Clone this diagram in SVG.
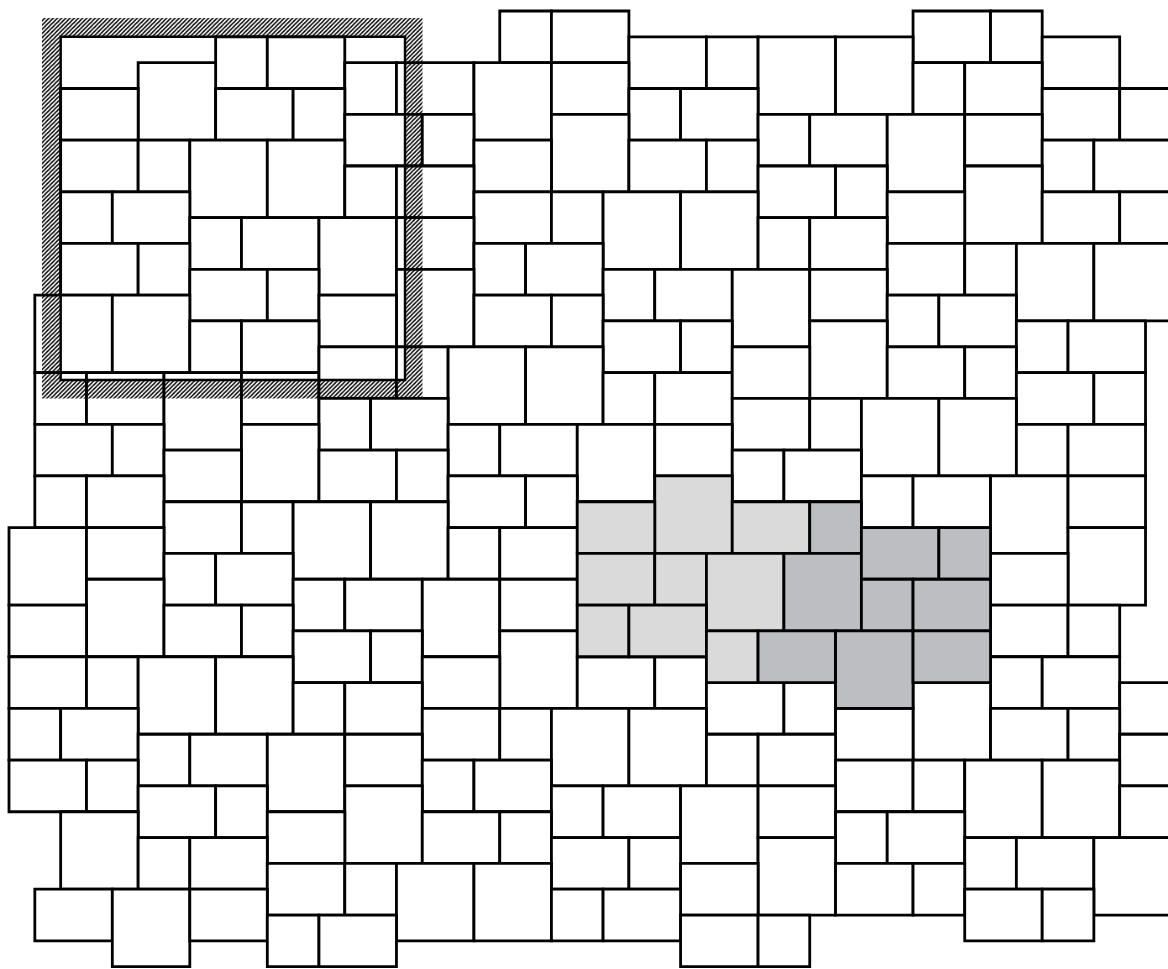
<svg xmlns="http://www.w3.org/2000/svg" width="1168" height="969" viewBox="0 0 1168 969">
<defs>
<pattern id="hatch" patternUnits="userSpaceOnUse" width="4.2" height="4.2">
<path d="M-1,1 L1,-1 M0,4.2 L4.2,0 M3.2,5.2 L5.2,3.2" stroke="#000" stroke-width="1.35"/>
</pattern>
<style>
rect{vector-effect:non-scaling-stroke;stroke:#000;stroke-width:2.8;stroke-linejoin:miter}
.t{fill:#fff}.l{fill:#dadada}.d{fill:#bdbec1}
</style>
</defs>
<rect x="0" y="0" width="1168" height="969" fill="#fff" style="stroke:none"/>
<g id="tiles" transform="translate(9,11) scale(25.83)">
<g class="t">
<rect x="19" y="0" width="2" height="2"/><rect x="21" y="0" width="3" height="2"/><rect x="35" y="0" width="3" height="2"/><rect x="38" y="0" width="2" height="2"/>
<rect x="24" y="1" width="3" height="2"/><rect x="27" y="1" width="2" height="2"/><rect x="29" y="1" width="3" height="3"/><rect x="32" y="1" width="3" height="3"/><rect x="40" y="1" width="3" height="2"/><rect x="8" y="1" width="2" height="2"/><rect x="10" y="1" width="3" height="2"/>
<rect x="5" y="2" width="3" height="3"/><rect x="13" y="2" width="2" height="2"/><rect x="15" y="2" width="3" height="2"/><rect x="18" y="2" width="3" height="3"/><rect x="21" y="2" width="3" height="2"/><rect x="35" y="2" width="2" height="2"/><rect x="37" y="2" width="3" height="2"/>
<rect x="2" y="3" width="3" height="2"/><rect x="8" y="3" width="3" height="2"/><rect x="11" y="3" width="2" height="2"/><rect x="24" y="3" width="2" height="2"/><rect x="26" y="3" width="3" height="2"/><rect x="40" y="3" width="3" height="2"/><rect x="43" y="3" width="3" height="2"/>
<rect x="13" y="4" width="3" height="2"/><rect x="16" y="4" width="2" height="2"/><rect x="21" y="4" width="3" height="3"/><rect x="29" y="4" width="2" height="2"/><rect x="31" y="4" width="3" height="2"/><rect x="34" y="4" width="3" height="3"/><rect x="37" y="4" width="3" height="2"/>
<rect x="2" y="5" width="3" height="2"/><rect x="5" y="5" width="2" height="2"/><rect x="7" y="5" width="3" height="3"/><rect x="10" y="5" width="3" height="3"/><rect x="18" y="5" width="3" height="2"/><rect x="24" y="5" width="3" height="2"/><rect x="27" y="5" width="2" height="2"/><rect x="40" y="5" width="2" height="2"/><rect x="42" y="5" width="3" height="2"/>
<rect x="13" y="6" width="2" height="2"/><rect x="15" y="6" width="3" height="2"/><rect x="29" y="6" width="3" height="2"/><rect x="32" y="6" width="2" height="2"/><rect x="37" y="6" width="3" height="3"/>
<rect x="2" y="7" width="2" height="2"/><rect x="4" y="7" width="3" height="2"/><rect x="18" y="7" width="3" height="2"/><rect x="21" y="7" width="2" height="2"/><rect x="23" y="7" width="3" height="3"/><rect x="26" y="7" width="3" height="3"/><rect x="34" y="7" width="3" height="2"/><rect x="40" y="7" width="3" height="2"/><rect x="43" y="7" width="2" height="2"/>
<rect x="7" y="8" width="2" height="2"/><rect x="9" y="8" width="3" height="2"/><rect x="12" y="8" width="3" height="3"/><rect x="15" y="8" width="3" height="2"/><rect x="29" y="8" width="2" height="2"/><rect x="31" y="8" width="3" height="2"/>
<rect x="2" y="9" width="3" height="2"/><rect x="5" y="9" width="2" height="2"/><rect x="18" y="9" width="2" height="2"/><rect x="20" y="9" width="3" height="2"/><rect x="34" y="9" width="3" height="2"/><rect x="37" y="9" width="2" height="2"/><rect x="39" y="9" width="3" height="3"/><rect x="42" y="9" width="3" height="3"/>
<rect x="7" y="10" width="3" height="2"/><rect x="10" y="10" width="2" height="2"/><rect x="15" y="10" width="3" height="3"/><rect x="23" y="10" width="2" height="2"/><rect x="25" y="10" width="3" height="2"/><rect x="28" y="10" width="3" height="3"/><rect x="31" y="10" width="3" height="2"/>
<rect x="1" y="11" width="3" height="3"/><rect x="4" y="11" width="3" height="3"/><rect x="12" y="11" width="3" height="2"/><rect x="18" y="11" width="3" height="2"/><rect x="21" y="11" width="2" height="2"/><rect x="34" y="11" width="2" height="2"/><rect x="36" y="11" width="3" height="2"/>
<rect x="7" y="12" width="2" height="2"/><rect x="9" y="12" width="3" height="2"/><rect x="23" y="12" width="3" height="2"/><rect x="26" y="12" width="2" height="2"/><rect x="31" y="12" width="3" height="3"/><rect x="39" y="12" width="2" height="2"/><rect x="41" y="12" width="3" height="2"/>
<rect x="1" y="14" width="2" height="2"/><rect x="3" y="14" width="3" height="2"/><rect x="6" y="14" width="3" height="3"/><rect x="9" y="14" width="3" height="2"/><rect x="12" y="13" width="3" height="2"/><rect x="15" y="13" width="2" height="2"/><rect x="17" y="13" width="3" height="3"/><rect x="20" y="13" width="3" height="3"/><rect x="23" y="14" width="2" height="2"/><rect x="25" y="14" width="3" height="2"/><rect x="28" y="13" width="3" height="2"/><rect x="34" y="13" width="3" height="2"/><rect x="37" y="13" width="2" height="2"/><rect x="39" y="14" width="3" height="2"/><rect x="42" y="14" width="2" height="2"/>
<rect x="12" y="15" width="2" height="2"/><rect x="14" y="15" width="3" height="2"/><rect x="28" y="15" width="3" height="2"/><rect x="31" y="15" width="2" height="2"/><rect x="33" y="15" width="3" height="3"/><rect x="36" y="15" width="3" height="3"/>
<rect x="1" y="16" width="3" height="2"/><rect x="4" y="16" width="2" height="2"/><rect x="9" y="16" width="3" height="3"/><rect x="17" y="16" width="2" height="2"/><rect x="19" y="16" width="3" height="2"/><rect x="22" y="16" width="3" height="3"/><rect x="25" y="16" width="3" height="2"/><rect x="39" y="16" width="2" height="2"/><rect x="41" y="16" width="3" height="2"/>
<rect x="6" y="17" width="3" height="2"/><rect x="12" y="17" width="3" height="2"/><rect x="15" y="17" width="2" height="2"/><rect x="28" y="17" width="2" height="2"/><rect x="30" y="17" width="3" height="2"/>
<rect x="1" y="18" width="2" height="2"/><rect x="3" y="18" width="3" height="2"/><rect x="17" y="18" width="3" height="2"/><rect x="20" y="18" width="2" height="2"/><rect x="33" y="18" width="2" height="2"/><rect x="35" y="18" width="3" height="2"/><rect x="38" y="18" width="3" height="3"/><rect x="41" y="18" width="3" height="2"/>
<rect x="6" y="19" width="3" height="2"/><rect x="9" y="19" width="2" height="2"/><rect x="11" y="19" width="3" height="3"/><rect x="14" y="19" width="3" height="3"/>
<rect x="0" y="20" width="3" height="3"/><rect x="3" y="20" width="3" height="2"/><rect x="17" y="20" width="2" height="2"/><rect x="19" y="20" width="3" height="2"/><rect x="41" y="20" width="3" height="3"/>
<rect x="6" y="21" width="2" height="2"/><rect x="8" y="21" width="3" height="2"/><rect x="38" y="21" width="3" height="2"/>
<rect x="3" y="22" width="3" height="3"/><rect x="11" y="22" width="2" height="2"/><rect x="13" y="22" width="3" height="2"/><rect x="16" y="22" width="3" height="3"/><rect x="19" y="22" width="3" height="2"/>
<rect x="0" y="23" width="3" height="2"/><rect x="6" y="23" width="3" height="2"/><rect x="9" y="23" width="2" height="2"/><rect x="38" y="23" width="3" height="2"/><rect x="41" y="23" width="2" height="2"/>
<rect x="11" y="24" width="3" height="2"/><rect x="14" y="24" width="2" height="2"/><rect x="19" y="24" width="3" height="3"/>
<rect x="0" y="25" width="3" height="2"/><rect x="3" y="25" width="2" height="2"/><rect x="5" y="25" width="3" height="3"/><rect x="8" y="25" width="3" height="3"/><rect x="16" y="25" width="3" height="2"/><rect x="22" y="25" width="3" height="2"/><rect x="25" y="25" width="2" height="2"/><rect x="38" y="25" width="2" height="2"/><rect x="40" y="25" width="3" height="2"/>
<rect x="11" y="26" width="2" height="2"/><rect x="13" y="26" width="3" height="2"/><rect x="27" y="26" width="3" height="2"/><rect x="30" y="26" width="2" height="2"/><rect x="35" y="26" width="3" height="3"/><rect x="43" y="26" width="3" height="2"/>
<rect x="0" y="27" width="2" height="2"/><rect x="2" y="27" width="3" height="2"/><rect x="16" y="27" width="3" height="2"/><rect x="19" y="27" width="2" height="2"/><rect x="21" y="27" width="3" height="3"/><rect x="24" y="27" width="3" height="3"/><rect x="32" y="27" width="3" height="2"/><rect x="38" y="27" width="3" height="2"/><rect x="41" y="27" width="2" height="2"/>
<rect x="5" y="28" width="2" height="2"/><rect x="7" y="28" width="3" height="2"/><rect x="10" y="28" width="3" height="3"/><rect x="13" y="28" width="3" height="2"/><rect x="27" y="28" width="2" height="2"/><rect x="29" y="28" width="3" height="2"/><rect x="43" y="28" width="3" height="2"/>
<rect x="0" y="29" width="3" height="2"/><rect x="3" y="29" width="2" height="2"/><rect x="16" y="29" width="2" height="2"/><rect x="18" y="29" width="3" height="2"/><rect x="32" y="29" width="3" height="2"/><rect x="35" y="29" width="2" height="2"/><rect x="37" y="29" width="3" height="3"/><rect x="40" y="29" width="3" height="3"/>
<rect x="5" y="30" width="3" height="2"/><rect x="8" y="30" width="2" height="2"/><rect x="13" y="30" width="3" height="3"/><rect x="21" y="30" width="2" height="2"/><rect x="23" y="30" width="3" height="2"/><rect x="26" y="30" width="3" height="3"/><rect x="29" y="30" width="3" height="2"/><rect x="43" y="30" width="3" height="2"/>
<rect x="2" y="31" width="3" height="3"/><rect x="10" y="31" width="3" height="2"/><rect x="16" y="31" width="3" height="2"/><rect x="19" y="31" width="2" height="2"/><rect x="32" y="31" width="2" height="2"/><rect x="34" y="31" width="3" height="2"/>
<rect x="5" y="32" width="2" height="2"/><rect x="7" y="32" width="3" height="2"/><rect x="21" y="32" width="3" height="2"/><rect x="24" y="32" width="2" height="2"/><rect x="29" y="32" width="3" height="3"/><rect x="37" y="32" width="2" height="2"/><rect x="39" y="32" width="3" height="2"/><rect x="42" y="32" width="3" height="3"/>
<rect x="10" y="33" width="3" height="2"/><rect x="13" y="33" width="2" height="2"/><rect x="15" y="33" width="3" height="3"/><rect x="18" y="33" width="3" height="3"/><rect x="26" y="33" width="3" height="2"/><rect x="32" y="33" width="3" height="2"/><rect x="35" y="33" width="2" height="2"/>
<rect x="1" y="34" width="3" height="2"/><rect x="4" y="34" width="3" height="3"/><rect x="7" y="34" width="3" height="2"/><rect x="21" y="34" width="2" height="2"/><rect x="23" y="34" width="3" height="2"/><rect x="37" y="34" width="3" height="2"/><rect x="40" y="34" width="2" height="2"/>
<rect x="10" y="35" width="2" height="2"/><rect x="12" y="35" width="3" height="2"/><rect x="26" y="35" width="3" height="2"/><rect x="29" y="35" width="2" height="2"/>
</g>
<g class="l">
<rect x="25" y="18" width="3" height="3"/><rect x="22" y="19" width="3" height="2"/><rect x="28" y="19" width="3" height="2"/><rect x="22" y="21" width="3" height="2"/><rect x="25" y="21" width="2" height="2"/><rect x="27" y="21" width="3" height="3"/><rect x="22" y="23" width="2" height="2"/><rect x="24" y="23" width="3" height="2"/><rect x="27" y="24" width="2" height="2"/>
</g>
<g class="d">
<rect x="31" y="19" width="2" height="2"/><rect x="30" y="21" width="3" height="3"/><rect x="33" y="20" width="3" height="2"/><rect x="36" y="20" width="2" height="2"/><rect x="33" y="22" width="2" height="2"/><rect x="35" y="22" width="3" height="2"/><rect x="29" y="24" width="3" height="2"/><rect x="32" y="24" width="3" height="3"/><rect x="35" y="24" width="3" height="2"/>
</g>
</g>
<g id="frame">
<path d="M42,18 H422.5 V398.5 H42 Z M60.7,36.8 V380 H405 V36.8 Z" fill="url(#hatch)" fill-rule="evenodd"/>
<path d="M60.7,36.8 H405 V380 H60.7 Z" fill="none" stroke="#000" stroke-width="2.4"/>
</g>
</svg>
